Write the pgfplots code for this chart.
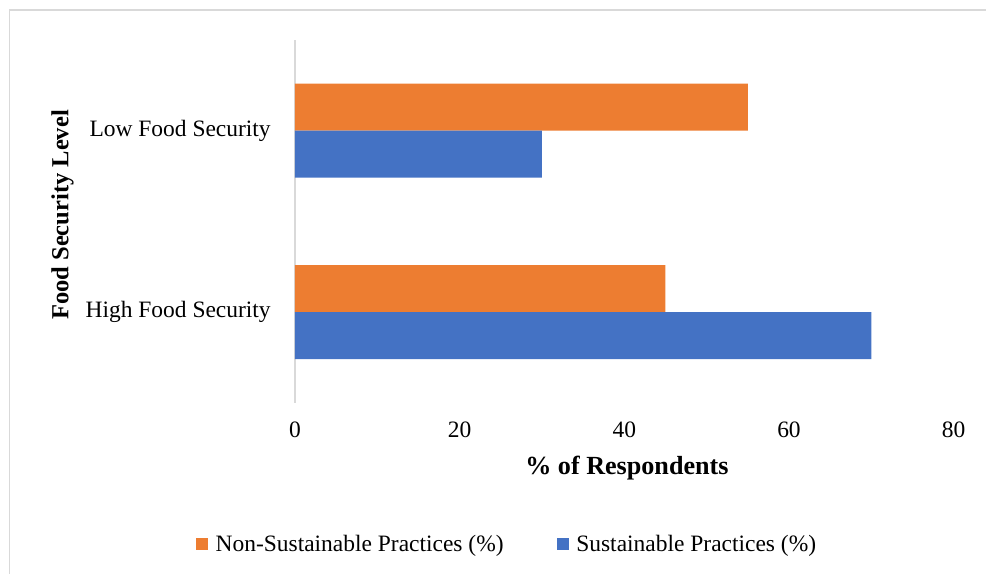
\documentclass[border=0pt]{standalone}
\usepackage{fontspec}
\setmainfont{Liberation Serif}
\usepackage{pgfplots}
\pgfplotsset{compat=1.18}
\definecolor{xlorange}{HTML}{ED7D31}
\definecolor{xlblue}{HTML}{4472C4}
\definecolor{xlgray}{HTML}{D9D9D9}
\begin{document}
\begin{tikzpicture}
\useasboundingbox (0,0) rectangle (739.5pt,430.5pt);
\draw[xlgray, line width=1.2pt] (7.125pt,0pt) -- (7.125pt,423pt) -- (739.5pt,423pt);
\begin{axis}[
  at={(221.25pt,128.25pt)}, anchor=south west,
  scale only axis, width=494pt, height=272.25pt,
  font=\fontsize{17.6}{21}\selectfont,
  xmin=0, xmax=80, ymin=-0.5, ymax=1.5,
  axis x line=bottom,
  axis y line=left,
  x axis line style={draw=none, -},
  y axis line style={-, draw=xlgray, line width=1.1pt},
  major tick length=0pt,
  xtick={0,20,40,60,80},
  ytick={0,1},
  yticklabels={High Food Security, Low Food Security},
  /pgf/number format/assume math mode=true,
  xticklabel style={anchor=north, inner sep=0pt, yshift=-14pt},
  yticklabel style={anchor=east, inner sep=0pt, xshift=-18pt},
  xlabel={\bfseries\% of Respondents},
  ylabel={\bfseries Food Security Level},
  xlabel style={at={(axis description cs:0.504,0)}, anchor=center, yshift=-48.75pt,
    font=\fontsize{19.6}{23}\selectfont},
  ylabel style={at={(axis description cs:-0.3531,0.518)}, anchor=center,
    font=\fontsize{18.4}{22}\selectfont},
  legend style={at={(axis description cs:0.3227,-0.3884)}, anchor=center,
    draw=none, fill=none, legend columns=2,
    /tikz/every odd column/.append style={column sep=3.5pt},
    /tikz/every even column/.append style={column sep=38pt},
    font=\fontsize{17.6}{21}\selectfont},
  legend cell align=left,
  legend image code/.code={\fill[#1] (0pt,-4.5pt) rectangle (9pt,4.5pt);},
]
\addplot[xbar, bar width=35.25pt, bar shift=17.625pt, fill=xlorange, draw=none]
  coordinates {(45,0) (55,1)};
\addlegendentry{Non-Sustainable Practices (\%)}
\addplot[xbar, bar width=35.25pt, bar shift=-17.625pt, fill=xlblue, draw=none]
  coordinates {(70,0) (30,1)};
\addlegendentry{Sustainable Practices (\%)}
\end{axis}
\end{tikzpicture}
\end{document}
